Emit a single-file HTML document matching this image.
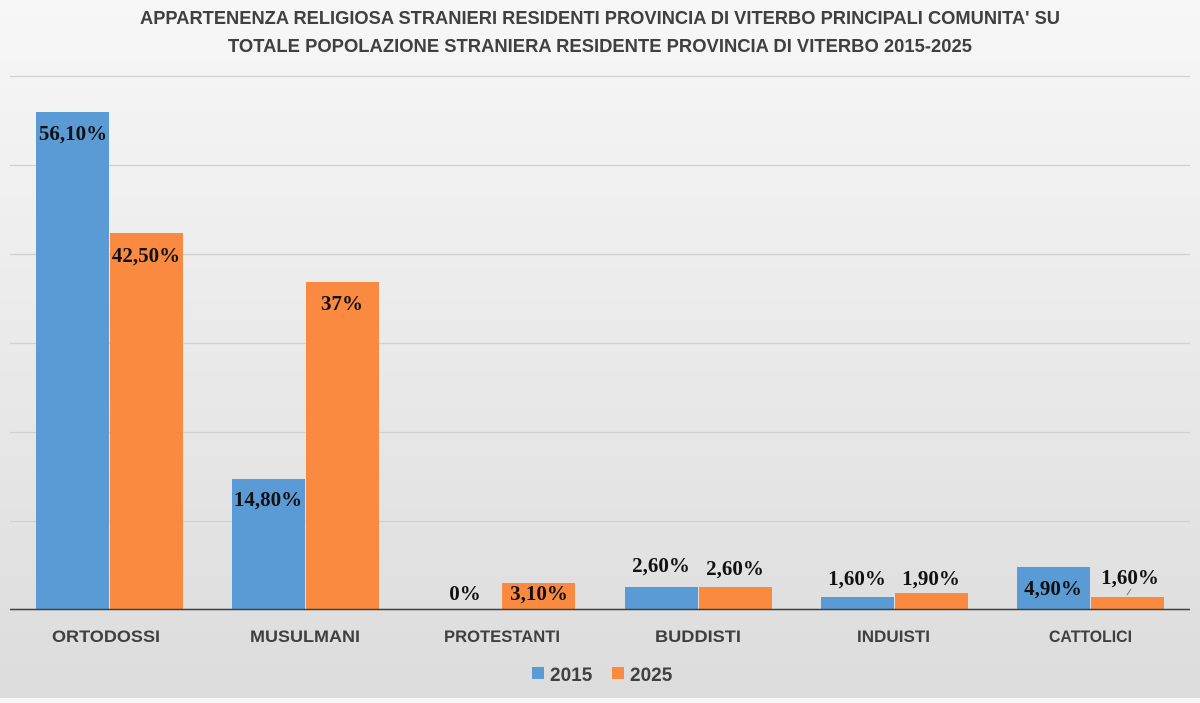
<!DOCTYPE html>
<html><head><meta charset="utf-8"><style>
html,body{margin:0;padding:0}
body{width:1200px;height:698px;overflow:hidden;background:linear-gradient(#f7f7f7,#dcdcdc);font-family:"Liberation Sans",sans-serif}
</style></head><body>
<svg width="1200" height="698" xmlns="http://www.w3.org/2000/svg">
<g font-family="Liberation Sans, sans-serif" font-weight="bold" fill="#404040" font-size="18">
<text x="140" y="24" textLength="920" lengthAdjust="spacingAndGlyphs">APPARTENENZA RELIGIOSA STRANIERI RESIDENTI PROVINCIA DI VITERBO PRINCIPALI COMUNITA' SU</text>
<text x="228" y="52" textLength="744" lengthAdjust="spacingAndGlyphs">TOTALE POPOLAZIONE STRANIERA RESIDENTE PROVINCIA DI VITERBO 2015-2025</text>
</g>
<g stroke="#d0d0d0" stroke-width="1.2">
<line x1="10" x2="1190" y1="76.5" y2="76.5"/>
<line x1="10" x2="1190" y1="165.5" y2="165.5"/>
<line x1="10" x2="1190" y1="254.5" y2="254.5"/>
<line x1="10" x2="1190" y1="343.5" y2="343.5"/>
<line x1="10" x2="1190" y1="432.5" y2="432.5"/>
<line x1="10" x2="1190" y1="521.5" y2="521.5"/>
</g>
<g>
<rect x="36" y="112" width="73" height="498" fill="#5b9bd5"/>
<rect x="110" y="233" width="73" height="377" fill="#f98a3f"/>
<rect x="232" y="479" width="73" height="131" fill="#5b9bd5"/>
<rect x="306" y="282" width="73" height="328" fill="#f98a3f"/>
<rect x="502" y="583" width="73" height="27" fill="#f98a3f"/>
<rect x="625" y="587" width="73" height="23" fill="#5b9bd5"/>
<rect x="699" y="587" width="73" height="23" fill="#f98a3f"/>
<rect x="821" y="597" width="73" height="13" fill="#5b9bd5"/>
<rect x="895" y="593" width="73" height="17" fill="#f98a3f"/>
<rect x="1017" y="567" width="73" height="43" fill="#5b9bd5"/>
<rect x="1091" y="597" width="73" height="13" fill="#f98a3f"/>
</g>
<line x1="10" x2="1190" y1="609.5" y2="609.5" stroke="#404040" stroke-width="1.5"/>
<line x1="1127" x2="1131" y1="595" y2="589" stroke="#777" stroke-width="1"/>
<g font-family="Liberation Serif, serif" font-weight="bold" font-size="21" fill="#111" text-anchor="middle">
<text x="73" y="140">56,10%</text>
<text x="146" y="262">42,50%</text>
<text x="268" y="506">14,80%</text>
<text x="342" y="310">37%</text>
<text x="465" y="600">0%</text>
<text x="539" y="600">3,10%</text>
<text x="661" y="572">2,60%</text>
<text x="735" y="575">2,60%</text>
<text x="857" y="585">1,60%</text>
<text x="931" y="585">1,90%</text>
<text x="1053" y="595">4,90%</text>
<text x="1130" y="584">1,60%</text>
</g>
<g font-family="Liberation Sans, sans-serif" font-weight="bold" font-size="17" fill="#404040">
<text x="52" y="642" textLength="108" lengthAdjust="spacingAndGlyphs">ORTODOSSI</text>
<text x="250" y="642" textLength="110" lengthAdjust="spacingAndGlyphs">MUSULMANI</text>
<text x="444" y="642" textLength="116" lengthAdjust="spacingAndGlyphs">PROTESTANTI</text>
<text x="655" y="642" textLength="86" lengthAdjust="spacingAndGlyphs">BUDDISTI</text>
<text x="857" y="642" textLength="73" lengthAdjust="spacingAndGlyphs">INDUISTI</text>
<text x="1049" y="642" textLength="83" lengthAdjust="spacingAndGlyphs">CATTOLICI</text>
</g>
<rect x="532" y="667" width="12" height="12" fill="#5b9bd5"/>
<text x="550" y="681" font-family="Liberation Sans, sans-serif" font-weight="bold" font-size="19" fill="#404040">2015</text>
<rect x="612" y="667" width="12" height="12" fill="#f98a3f"/>
<text x="630" y="681" font-family="Liberation Sans, sans-serif" font-weight="bold" font-size="19" fill="#404040">2025</text>
</svg>
</body></html>
